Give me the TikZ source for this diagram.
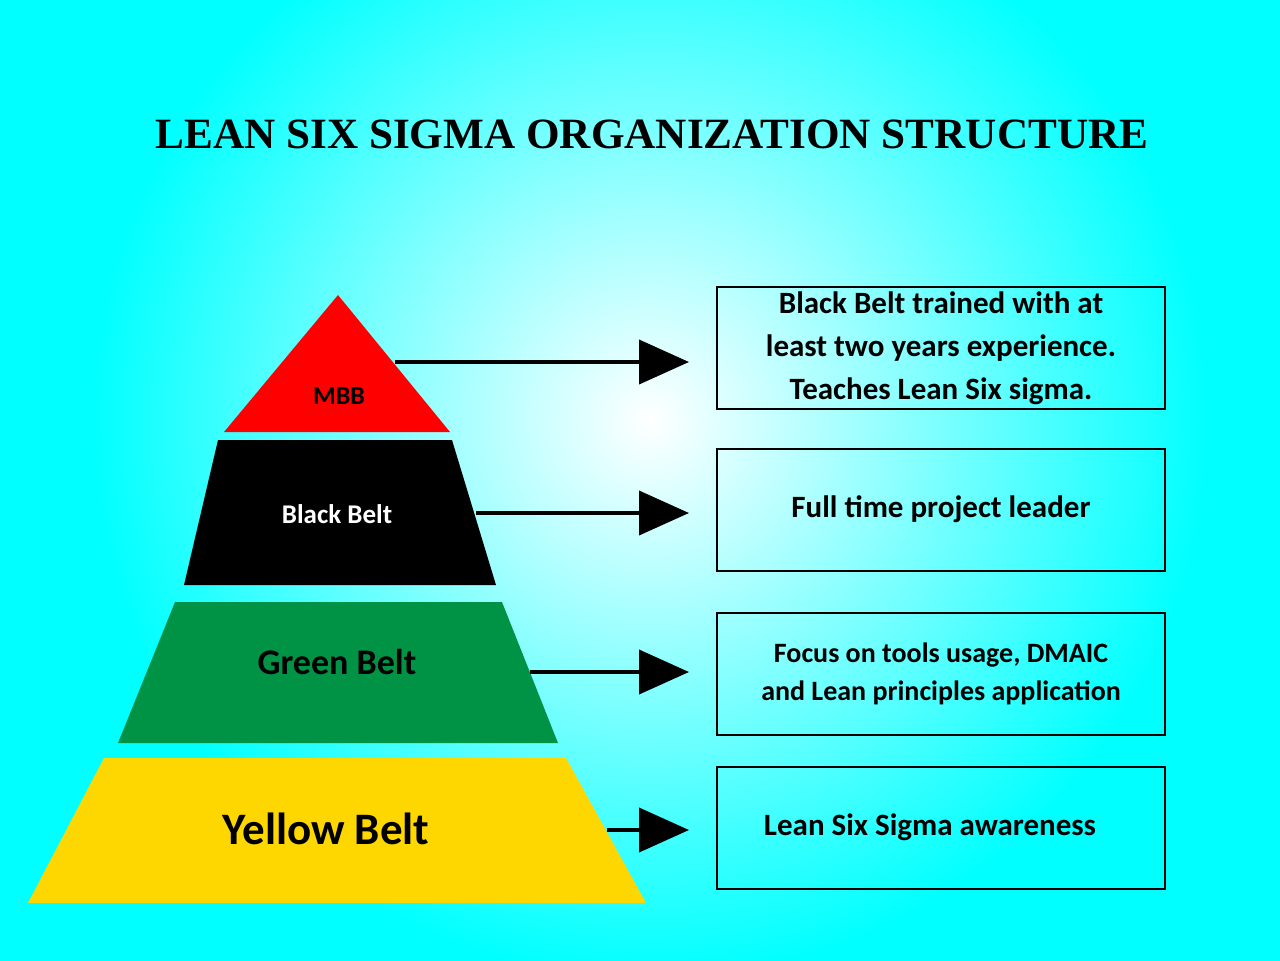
\documentclass[tikz,border=0pt]{standalone}
\usepackage{fontspec}
\setmainfont{Carlito}
\newfontfamily\titlefont{Liberation Serif}
\usetikzlibrary{arrows.meta}
\definecolor{bgcyan}{RGB}{0,255,255}
\definecolor{beltred}{RGB}{255,0,0}
\definecolor{beltgreen}{RGB}{0,146,69}
\definecolor{beltyellow}{RGB}{255,215,0}
\tikzset{info box/.style={draw,line width=1pt,minimum width=224pt,minimum height=61pt,align=center,inner sep=2pt},
  belt arrow/.style={line width=2pt,-{Triangle[length=25pt,width=22pt]}},
}
\begin{document}
\begin{tikzpicture}[x=0.5pt,y=-0.5pt]
		\useasboundingbox (0,0) rectangle (1280,960);
		\begin{scope}
			\clip (0,0) rectangle (1280,960);
			\fill[bgcyan] (-5,-5) rectangle (1285,965);
			\shade[inner color=white,outer color=bgcyan] (650,420) circle (560);
		\end{scope}
		\node (title) at (652,134) {\titlefont\fontsize{21.6}{25}\selectfont\bfseries LEAN SIX SIGMA ORGANIZATION STRUCTURE};
		
		% pyramid
		\fill[beltred] (338,295) -- (450,432) -- (224,432) -- cycle;
		\fill[black] (218,440) -- (452,440) -- (496,585) -- (184,585) -- cycle;
		\fill[beltgreen] (175,602) -- (502,602) -- (558,743) -- (118,743) -- cycle;
		\fill[beltyellow] (104,758) -- (566,758) -- (646,903) -- (28,903) -- cycle;
		\node (mbb) at (339,396) {\fontsize{13}{15}\selectfont\bfseries MBB};
		\node[text=white] (bb) at (337,514) {\fontsize{13.5}{16}\selectfont\bfseries Black Belt};
		\node (gb) at (337,662) {\fontsize{18}{22}\selectfont\bfseries Green Belt};
		\node (yb) at (326,829) {\fontsize{22.5}{27}\selectfont\bfseries Yellow Belt};
		
		% descriptions
		\node[info box,font=\fontsize{15.5}{21.5}\selectfont\bfseries] (mbbtext) at (941,348) {Black Belt trained with at\\least two years experience.\\Teaches Lean Six sigma.};
		\node[info box,font=\fontsize{15.5}{19}\selectfont\bfseries] (bbtext) at (941,510) {\raisebox{3pt}{Full time project leader}};
		\node[info box,font=\fontsize{14}{19}\selectfont\bfseries] (gbtext) at (941,674) {Focus on tools usage, DMAIC\\and Lean principles application};
		\node[info box,font=\fontsize{15.5}{19}\selectfont\bfseries] (ybtext) at (941,828) {\hspace*{-11pt}\raisebox{3pt}{Lean Six Sigma awareness}};
		
		\coordinate (mbbend) at (395,362);
		\coordinate (bbend) at (476,513);
		\coordinate (gbend) at (530,672);
		\coordinate (ybend) at (607,830);
		\foreach \s in {mbb,bb,gb,yb}
			\draw[belt arrow] (\s end) -- ([xshift=-13.5pt]\s end -| \s text.west);
	\end{tikzpicture}
\end{document}
